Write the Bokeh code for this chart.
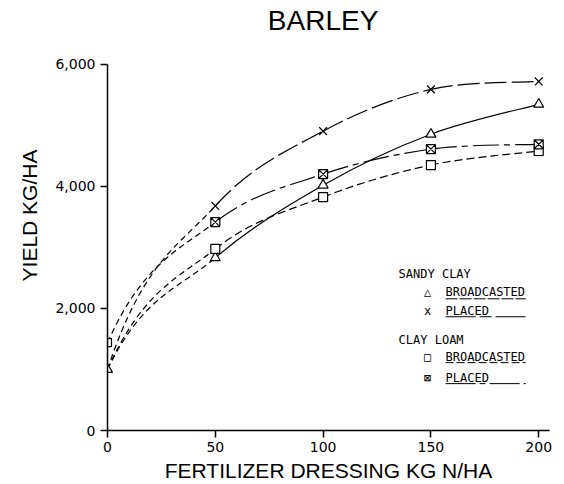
from bokeh.plotting import figure
from bokeh.models import Range1d, FixedTicker, NumeralTickFormatter, Label, Arrow
from bokeh.embed import file_html
from bokeh.resources import INLINE

# ---- data ----
fert = [0, 50, 100, 150, 200]
sandy_broadcast = [1000, 2830, 4020, 4855, 5345]
sandy_placed = [1000, 3680, 4905, 5590, 5720]
loam_broadcast = [1000, 2975, 3825, 4350, 4580]
loam_placed = [1440, 3415, 4200, 4610, 4690]
x_ticks = [0, 50, 100, 150, 200]
y_ticks = [0, 2000, 4000, 6000]
title_text = "BARLEY"

FONT = "Liberation Sans"
TICK_FONT = "DejaVu Sans"
LEG_FONT = "DejaVu Sans Mono"

# frame reaches the top of the canvas; the y axis itself is bounded to 0..6000
p = figure(width=556, height=484, x_range=Range1d(0, 205), y_range=Range1d(0, 7046),
           output_backend="svg", toolbar_location=None,
           min_border_left=107, min_border_right=7, min_border_top=0, min_border_bottom=53)
p.outline_line_color = None
p.xgrid.visible = False
p.ygrid.visible = False
p.background_fill_color = "white"
p.yaxis.bounds = (0, 6000)

# title drawn as a label in the upper part of the frame
p.add_layout(Label(x=100, y=6719, text=title_text, text_font=FONT, text_font_size="28px",
                   text_align="center", text_baseline="middle", text_color="black"))

for ax in (p.xaxis[0], p.yaxis[0]):
    ax.axis_line_color = "black"
    ax.axis_line_width = 1.5
    ax.major_tick_line_color = "black"
    ax.major_tick_line_width = 1.5
    ax.major_tick_in = 0
    ax.major_tick_out = 7
    ax.minor_tick_line_color = None
    ax.major_label_text_font = TICK_FONT
    ax.major_label_text_font_size = "14px"
    ax.major_label_text_color = "black"
    ax.axis_label_text_font = FONT
    ax.axis_label_text_font_size = "21px"
    ax.axis_label_text_font_style = "normal"
    ax.axis_label_text_color = "black"

p.xaxis.ticker = FixedTicker(ticks=x_ticks)
p.yaxis.ticker = FixedTicker(ticks=y_ticks)
p.yaxis.formatter = NumeralTickFormatter(format="0,0")
p.xaxis.axis_label = "FERTILIZER DRESSING KG N/HA"
p.yaxis.axis_label = "YIELD KG/HA"
p.xaxis.major_label_standoff = 4
p.yaxis.major_label_standoff = 5
p.xaxis.axis_label_standoff = 4
p.yaxis.axis_label_standoff = 11


def draw_series(xs, ys, dash):
    n = len(xs)
    x0s, y0s, x1s, y1s, cx0, cy0, cx1, cy1 = ([] for _ in range(8))
    for i in range(n - 1):
        ax_, ay_ = xs[i], ys[i]
        bx_, by_ = xs[i + 1], ys[i + 1]
        pmx, pmy = (xs[i - 1], ys[i - 1]) if i > 0 else (ax_, ay_)
        ppx, ppy = (xs[i + 2], ys[i + 2]) if i + 2 < n else (bx_, by_)
        c2x = bx_ - (ppx - ax_) / 6.0
        c2y = by_ - (ppy - ay_) / 6.0
        if i == 0:
            c1x = ax_ + (bx_ - ax_) / 3.0
            c1y = ay_ + 2.0 * (by_ - ay_) / 3.0
            p.bezier(x0=[ax_], y0=[ay_], x1=[bx_], y1=[by_], cx0=[c1x], cy0=[c1y],
                     cx1=[c2x], cy1=[c2y], line_color="black", line_width=1.2,
                     line_dash="6 4")
        else:
            c1x = ax_ + (bx_ - pmx) / 6.0
            c1y = ay_ + (by_ - pmy) / 6.0
            x0s.append(ax_); y0s.append(ay_); x1s.append(bx_); y1s.append(by_)
            cx0.append(c1x); cy0.append(c1y); cx1.append(c2x); cy1.append(c2y)
    p.bezier(x0=x0s, y0=y0s, x1=x1s, y1=y1s, cx0=cx0, cy0=cy0, cx1=cx1, cy1=cy1,
             line_color="black", line_width=1.2, line_dash=dash)


draw_series(fert, sandy_broadcast, "solid")
draw_series(fert, sandy_placed, "22 5")
draw_series(fert, loam_broadcast, "8 4")
draw_series(fert, loam_placed, "26 5 6 5")

# markers
p.scatter(fert, sandy_broadcast, marker="triangle", size=10, fill_color="white",
          line_color="black", line_width=1.2)
p.scatter(fert[1:], sandy_placed[1:], marker="x", size=11, line_color="black", line_width=1.2)
p.scatter(fert[1:], loam_broadcast[1:], marker="square", size=9, fill_color="white",
          line_color="black", line_width=1.2)
p.scatter(fert[:1], loam_placed[:1], marker="square", size=8, fill_color="white",
          line_color="black", line_width=1.2)
p.scatter(fert[1:], loam_placed[1:], marker="square_x", size=9, fill_color="white",
          line_color="black", line_width=1.2)

# legend (custom, in layout positions)
def leg_text(x, y, t, align="left"):
    p.add_layout(Label(x=x, y=y, text=t, text_font=LEG_FONT, text_font_size="12px",
                       text_baseline="middle", text_align=align, text_color="black"))

def leg_line(y, dash):
    p.add_layout(Arrow(end=None, x_start=156.8, y_start=y, x_end=194.0, y_end=y,
                       line_color="black", line_width=1, line_dash=dash))

leg_text(135.0, 2567, "SANDY CLAY")
leg_text(148.5, 2272, "△", "center")
leg_text(156.8, 2272, "BROADCASTED")
leg_line(2158, "12 2")
leg_text(148.5, 1962, "x", "center")
leg_text(156.8, 1962, "PLACED")
leg_line(1864, "30 4 12 4")
leg_text(135.0, 1488, "CLAY LOAM")
leg_text(148.5, 1210, "□", "center")
leg_text(156.8, 1210, "BROADCASTED")
leg_line(1112, "8 3")
leg_text(148.5, 866, "⊠", "center")
leg_text(156.8, 866, "PLACED")
leg_line(768, "30 4 6 4")

open("out.html", "w").write(file_html(p, INLINE))
